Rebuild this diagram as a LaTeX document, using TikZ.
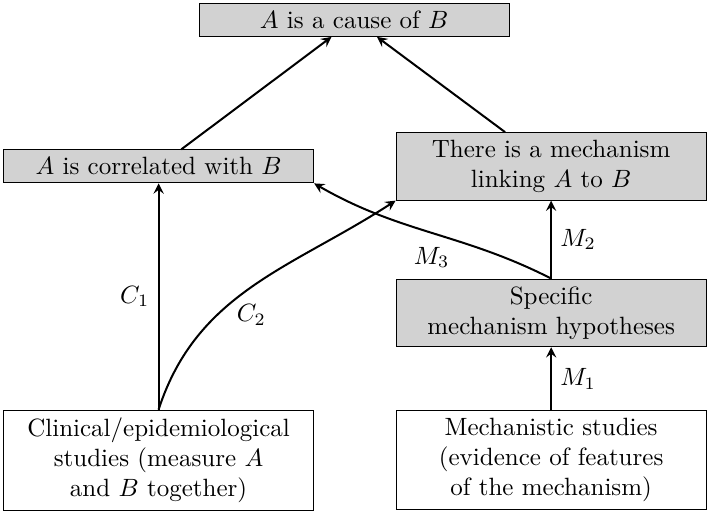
\documentclass[tikz,border=0pt]{standalone}
\usepackage{tikz}
\usetikzlibrary{arrows,positioning}

\tikzset{
	claim/.style={draw=black, fill=gray!35, align=center, minimum width=4.36cm, minimum height=13.2pt, inner sep=3pt},
	study/.style={claim, fill=white},
	link/.style={->, >=stealth, thick}
}

\begin{document}
\begin{tikzpicture}
		\useasboundingbox (0,0) rectangle (9.97,-7.23);
		\node[claim] (cause) at (4.98,-0.28) {$A$ is a cause of $B$};
		\node[claim] (corr) at (2.23,-2.34) {$A$ is correlated with $B$};
		\node[claim] (mech) at (7.75,-2.34) {There is a mechanism\\ linking $A$ to $B$};
		\node[claim] (spec) at (7.75,-4.40) {Specific\\ mechanism hypotheses};
		\node[study] (clin) at (2.23,-6.47) {Clinical/epidemiological\\ studies (measure $A$\\ and $B$ together)};
		\node[study] (mstud) at (7.75,-6.47) {Mechanistic studies\\ (evidence of features\\ of the mechanism)};
		\draw[link] (corr) -- (cause);
		\draw[link] (mech) -- (cause);
		\draw[link] (clin.north) -- node[left] {$C_1$} (corr.south);
		\draw[link] (clin.north) to[out=72, in=213] node[pos=0.42, below right, inner sep=1pt] {$C_2$} (mech.south west);
		\draw[link] (spec.north) to[out=153, in=-30] node[midway, below, yshift=-2pt] {$M_3$} (corr.south east);
		\draw[link] (spec.north) -- node[right] {$M_2$} (mech.south);
		\draw[link] (mstud.north) -- node[right] {$M_1$} (spec.south);
	\end{tikzpicture}
\end{document}
